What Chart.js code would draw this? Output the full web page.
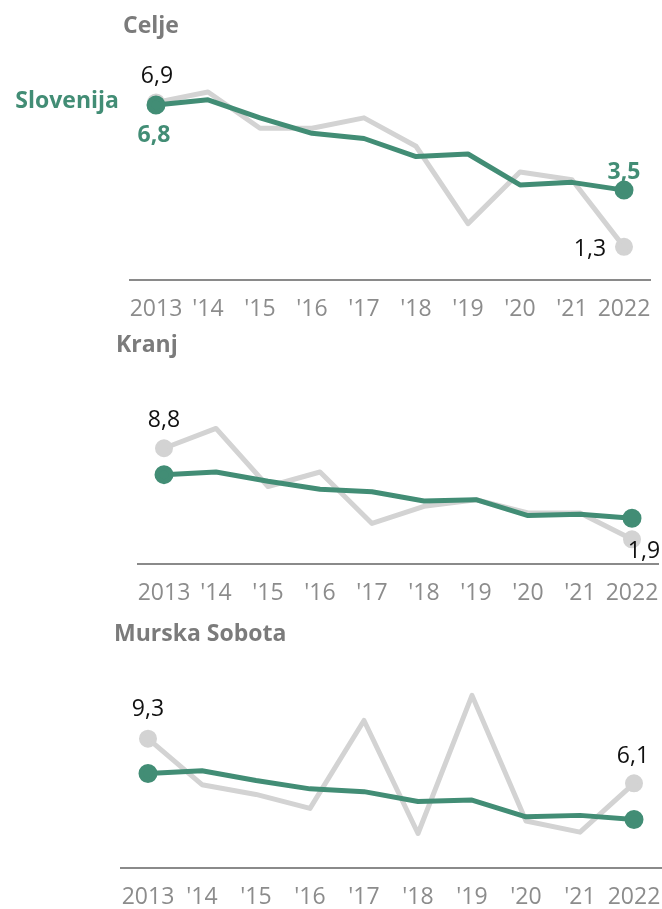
<!DOCTYPE html>
<html>
<head>
<meta charset="utf-8">
<script src="https://cdn.jsdelivr.net/npm/chart.js@4.4.0/dist/chart.umd.min.js"></script>
<style>
  html, body { margin: 0; background: #fff; overflow: hidden; }
  body { width: 662px; height: 909px; position: relative; }
  canvas { position: absolute; left: 0; }
</style>
</head>
<body>
<canvas id="c1" width="662" height="338" style="top:0"></canvas>
<canvas id="c2" width="662" height="302" style="top:320px"></canvas>
<canvas id="c3" width="662" height="316" style="top:610px"></canvas>
<script>
const years = ['2013', "'14", "'15", "'16", "'17", "'18", "'19", "'20", "'21", '2022'];
const slovenija    = [6.8, 7.0, 6.3, 5.7, 5.5, 4.8, 4.9, 3.7, 3.8, 3.5];
const celje        = [6.9, 7.3, 5.9, 5.9, 6.3, 5.2, 2.2, 4.2, 3.9, 1.3];
const kranj        = [8.8, 10.3, 5.9, 7.0, 3.1, 4.4, 4.9, 3.9, 3.9, 1.9];
const murskaSobota = [9.3, 6.0, 5.3, 4.3, 10.6, 2.5, 12.4, 3.4, 2.6, 6.1];

const GREEN = '#428d75';
const GREY  = '#d3d3d3';
const FONT  = '"Open Sans", sans-serif';

const fmt = v => String(v.toFixed(1)).replace('.', ',');
const ends = n => Array.from({ length: n }, (_, i) => (i === 0 || i === n - 1) ? 7 : 0);

// value labels + panel title, drawn on top of the lines
const labelPlugin = {
  id: 'valueLabels',
  afterDatasetsDraw(chart, args, opts) {
    const { ctx, scales: { x, y } } = chart;
    ctx.save();
    ctx.font = '700 23px ' + FONT;
    ctx.fillStyle = '#7b7b7b';
    ctx.textAlign = 'left';
    ctx.textBaseline = 'alphabetic';
    ctx.fillText(opts.title, opts.titleX, opts.titleY);

    ctx.textBaseline = 'middle';
    opts.notes.forEach(n => {
      const data = chart.data.datasets[n.ds].data;
      const px = x.getPixelForValue(n.i) + n.dx;
      const py = y.getPixelForValue(data[n.i]) + n.dy;
      ctx.font = (n.bold ? '700 ' : '400 ') + '23px ' + FONT;
      ctx.fillStyle = n.color || '#111';
      ctx.textAlign = n.align || 'center';
      ctx.fillText(n.text || fmt(data[n.i]), px, py);
    });
    ctx.restore();
  }
};

function makeChart(id, local, max, pad, labelOpts) {
  const n = years.length;
  return new Chart(document.getElementById(id), {
    type: 'line',
    data: {
      labels: years,
      datasets: [
        {
          data: slovenija,
          borderColor: GREEN, backgroundColor: GREEN,
          borderWidth: 5, pointRadius: ends(n), pointHoverRadius: 0,
          borderCapStyle: 'round', borderJoinStyle: 'round', tension: 0
        },
        {
          data: local,
          borderColor: GREY, backgroundColor: GREY,
          borderWidth: 5, pointRadius: ends(n).map(r => r ? 6.5 : 0), pointHoverRadius: 0,
          borderCapStyle: 'round', borderJoinStyle: 'round', tension: 0
        }
      ]
    },
    options: {
      responsive: false,
      animation: false,
      events: [],
      layout: { padding: pad, autoPadding: false },
      plugins: {
        legend: { display: false },
        tooltip: { enabled: false },
        valueLabels: labelOpts
      },
      scales: {
        x: {
          offset: true,
          grid: { display: false, drawTicks: false },
          border: { display: true, color: '#8a8a8a', width: 2 },
          ticks: { color: '#8c8c8c', padding: 15, font: { family: FONT, size: 23 }, maxRotation: 0, autoSkip: false },
          // labels may overhang the plot edges, don't let them shrink it
          afterFit(scale) { scale.paddingLeft = 0; scale.paddingRight = 0; }
        },
        y: { display: false, min: 0, max: max }
      }
    },
    plugins: [labelPlugin]
  });
}

makeChart('c1', celje, 8, { left: 130, right: 12, top: 74, bottom: 0 }, {
  title: 'Celje', titleX: 123, titleY: 33,
  notes: [
    { ds: 1, i: 0, dx: 1, dy: -26 },
    { ds: 0, i: 0, dx: -37, dy: -4, text: 'Slovenija', bold: true, color: GREEN, align: 'right' },
    { ds: 0, i: 0, dx: -2, dy: 30, bold: true, color: GREEN },
    { ds: 0, i: 9, dx: 0, dy: -18, bold: true, color: GREEN },
    { ds: 1, i: 9, dx: -34, dy: 3 }
  ]
});

makeChart('c2', kranj, 12, { left: 138, right: 4, top: 86, bottom: 0 }, {
  title: 'Kranj', titleX: 116, titleY: 32,
  notes: [
    { ds: 1, i: 0, dx: 0, dy: -28 },
    { ds: 1, i: 9, dx: 12, dy: 12 }
  ]
});

makeChart('c3', murskaSobota, 13, { left: 121, right: 1, top: 77, bottom: 0 }, {
  title: 'Murska Sobota', titleX: 114, titleY: 31,
  notes: [
    { ds: 1, i: 0, dx: 0, dy: -29 },
    { ds: 1, i: 9, dx: -1, dy: -27 }
  ]
});
</script>
</body>
</html>
